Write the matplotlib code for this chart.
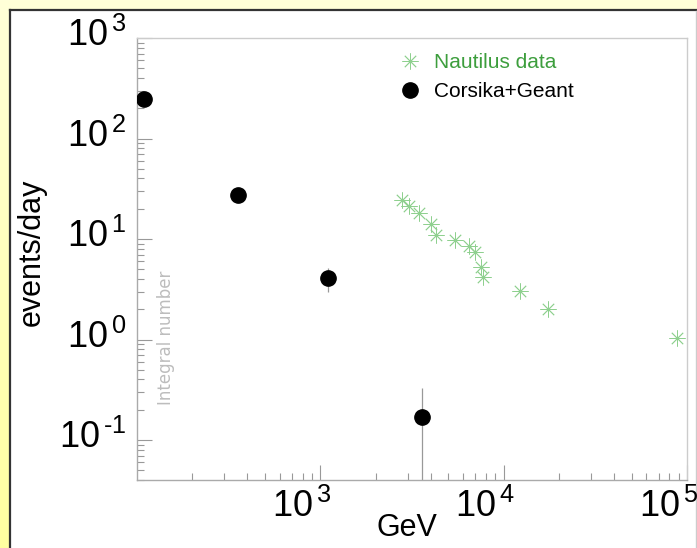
import numpy as np
import matplotlib
matplotlib.use("Agg")
import matplotlib.pyplot as plt
from matplotlib.patches import Rectangle
from matplotlib.lines import Line2D
import matplotlib.transforms as mtransforms
from matplotlib.ticker import FixedLocator, LogLocator, NullFormatter

plt.rcParams['font.family'] = ['Liberation Sans', 'DejaVu Sans']
plt.rcParams['mathtext.fontset'] = 'custom'
plt.rcParams['mathtext.rm'] = 'Liberation Sans'
plt.rcParams['mathtext.it'] = 'Liberation Sans'
plt.rcParams['mathtext.bf'] = 'Liberation Sans'

# ---- data ----
corsika_energy = [109, 357, 1107, 3600]
corsika_rate = [250, 27.5, 4.1, 0.169]
corsika_err = [0, 0, 1.1, 0.16]

nautilus_energy = [2795, 3064, 3444, 3991, 4288, 5398, 6463, 6970, 7486, 7707,
                   12280, 17460, 88200]
nautilus_rate = [24.3, 21.3, 18.3, 14.0, 11.0, 9.7, 8.45, 7.4, 5.26, 4.18,
                 3.01, 1.99, 1.03]

xtick_values = [1e3, 1e4, 1e5]
xtick_labels = [r'$\mathregular{10^{\,3}}$', r'$\mathregular{10^{\,4}}$', r'$\mathregular{10^{\,5}}$']
ytick_values = [1e-1, 1e0, 1e1, 1e2, 1e3]
ytick_labels = [r'$\mathregular{10^{\,\text{-}1}}$', r'$\mathregular{10^{\,0}}$',
                r'$\mathregular{10^{\,1}}$', r'$\mathregular{10^{\,2}}$',
                r'$\mathregular{10^{\,3}}$']

W, H = 697, 548
fig = plt.figure(figsize=(W / 100, H / 100), dpi=100)

# background gradient
bg = fig.add_axes([0, 0, 1, 1], zorder=-10)
grad = np.linspace(0, 1, 256).reshape(-1, 1)
cmap = matplotlib.colors.LinearSegmentedColormap.from_list('bg', ['#ffffd8', '#ffffa0'])
bg.imshow(grad, aspect='auto', cmap=cmap, extent=[0, W, H, 0])
bg.add_patch(Rectangle((9.5, 10), 686, 540, facecolor='white', edgecolor='none'))
bg.add_line(Line2D([9.5, 9.5], [10, H], color='#333333', lw=1.6))
bg.add_line(Line2D([9.5, W], [9.6, 9.6], color='#333333', lw=1.6))
bg.add_line(Line2D([695.5, 695.5], [11, H], color='#cccccc', lw=1.0))
bg.set_xlim(0, W)
bg.set_ylim(H, 0)
bg.axis('off')

L, R, B, T = 137, 687, 480, 38
ax = fig.add_axes([L / W, 1 - B / H, (R - L) / W, (B - T) / H])
ax.set_facecolor('none')
ax.set_xscale('log')
ax.set_yscale('log')
ax.set_xlim(100, 1e5)
ax.set_ylim(0.04, 1000)

# data
ax.errorbar(corsika_energy, corsika_rate, yerr=corsika_err, fmt='none',
            ecolor='#999999', elinewidth=0.9, capsize=0, zorder=2)
ax.plot(corsika_energy, corsika_rate, 'o', color='black', markersize=11, zorder=3,
        label='Corsika+Geant')
ax.plot(nautilus_energy, nautilus_rate, linestyle='none', marker=(8, 2, 0),
        markersize=11.5, markeredgewidth=0.6, color='#8fd08f', zorder=4,
        label='Nautilus data')

# spines
for s in ['left', 'bottom']:
    ax.spines[s].set_color('#aaaaaa')
    ax.spines[s].set_linewidth(1.0)
for s in ['top', 'right']:
    ax.spines[s].set_color('#cccccc')
    ax.spines[s].set_linewidth(1.0)

ax.xaxis.set_major_locator(FixedLocator(xtick_values))
ax.set_xticklabels(xtick_labels)
ax.yaxis.set_major_locator(FixedLocator(ytick_values))
ax.set_yticklabels(ytick_labels)
ax.xaxis.set_minor_locator(LogLocator(base=10, subs=np.arange(2, 10), numticks=20))
ax.yaxis.set_minor_locator(LogLocator(base=10, subs=np.arange(2, 10), numticks=20))
ax.xaxis.set_minor_formatter(NullFormatter())
ax.yaxis.set_minor_formatter(NullFormatter())

ax.tick_params(axis='both', which='major', direction='in', length=10.8, width=0.8,
               color='#999999', labelsize=26, labelcolor='black')
ax.tick_params(axis='both', which='minor', direction='in', length=5.2, width=0.8,
               color='#999999')
ax.tick_params(axis='x', which='major', pad=6)
ax.tick_params(axis='y', which='major', pad=8)
ax.tick_params(top=False, right=False, which='both')

xoff = mtransforms.ScaledTranslation(-19 / 100, 0, fig.dpi_scale_trans)
for lab in ax.get_xticklabels():
    lab.set_transform(lab.get_transform() + xoff)
yoff = mtransforms.ScaledTranslation(0, 6 / 100, fig.dpi_scale_trans)
for lab in ax.get_yticklabels():
    lab.set_transform(lab.get_transform() + yoff)

# legend
handles, labels = ax.get_legend_handles_labels()
order = [labels.index('Nautilus data'), labels.index('Corsika+Geant')]
leg = ax.legend([handles[i] for i in order], [labels[i] for i in order],
                loc='upper left', bbox_to_anchor=(0.4775, 0.966), frameon=False,
                fontsize=15, handlelength=1.0, handletextpad=0.65,
                borderaxespad=0, borderpad=0, labelspacing=0.49)
leg.get_texts()[0].set_color('#3d9e3d')

# labels
fig.text(32 / W, 1 - 252 / H, 'events/day', rotation=90, ha='center', va='center',
         fontsize=22)
fig.text(407 / W, 1 - 528 / H, 'GeV', ha='center', va='center', fontsize=22)
fig.text(166 / W, 1 - 338 / H, 'Integral number', rotation=90, ha='center', va='center',
         fontsize=12, color='#bdbdbd', family='DejaVu Sans')

fig.savefig('out.png', dpi=100)
